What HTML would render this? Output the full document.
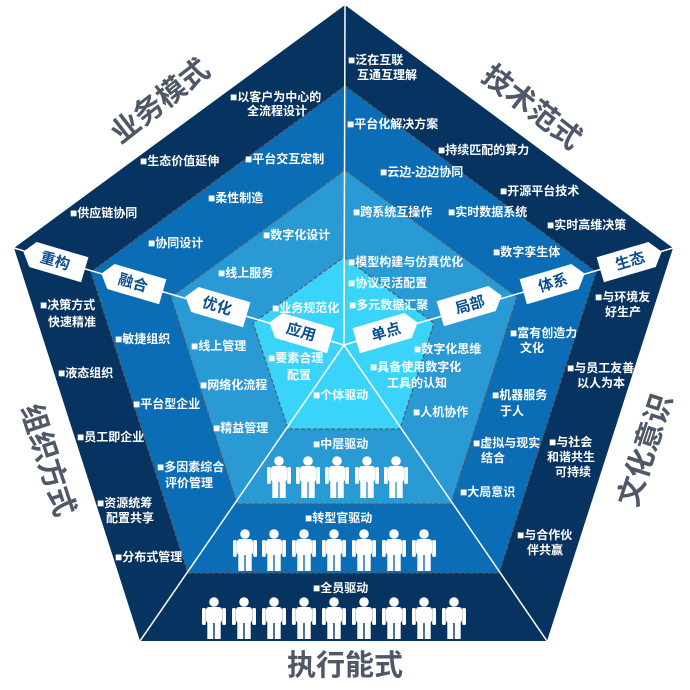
<!DOCTYPE html>
<html><head><meta charset="utf-8"><style>
html,body{margin:0;padding:0;background:#fff;}
svg{display:block;}
text{font-family:"Liberation Sans","Noto Sans CJK SC",sans-serif;}
.t{fill:#fff;font-size:12px;font-weight:bold;}
.big{fill:#4e5866;font-size:29px;font-weight:bold;}
.tag{fill:#0b4f8f;font-size:15px;font-weight:bold;}
</style></head><body>
<svg width="690" height="690" viewBox="0 0 690 690" xmlns="http://www.w3.org/2000/svg">
<defs>
<g id="p">
<circle cx="12" cy="5" r="4.8" fill="#fff"/>
<rect x="4" y="10" width="16" height="16" rx="3" fill="#fff"/>
<rect x="0" y="11" width="3.8" height="17" rx="1.5" fill="#fff"/>
<rect x="20.2" y="11" width="3.8" height="17" rx="1.5" fill="#fff"/>
<rect x="5.3" y="24" width="6" height="18" fill="#fff"/>
<rect x="12.7" y="24" width="6" height="18" fill="#fff"/>
</g>
<polygon id="tg" points="-33,0 -23,-13 31,-13 31,13 -23,13" fill="#fff"/>
</defs>
<polygon points="345,5 673,248 547,641 140,641 14,248" fill="#06335f"/>
<polygon points="345,86 596,272 499,573 188,573 91,272" fill="#0a6db5" stroke="#555c66" stroke-width="1.2" stroke-dasharray="4,2"/>
<polygon points="345,170 517,297 451,504 237,504 171,297" fill="#2a9ad5" stroke="#555c66" stroke-width="1.2" stroke-dasharray="4,2"/>
<polygon points="344,257 434,323 400,429 288,429 253,323" fill="#3ad4fb" stroke="#555c66" stroke-width="1.2" stroke-dasharray="4,2"/>
<g stroke="#fff" stroke-width="1.5">
<line x1="344" y1="345" x2="345" y2="5"/>
<line x1="344" y1="345" x2="14" y2="248"/>
<line x1="344" y1="345" x2="673" y2="248"/>
<line x1="344" y1="345" x2="140" y2="641"/>
<line x1="344" y1="345" x2="547" y2="641"/>
</g>
<g transform="translate(55,261) rotate(16.4)"><use href="#tg"/><text class="tag" x="0" y="5" text-anchor="middle">重构</text></g>
<g transform="translate(133,283) rotate(16.4)"><use href="#tg"/><text class="tag" x="0" y="5" text-anchor="middle">融合</text></g>
<g transform="translate(217,306) rotate(16.4)"><use href="#tg"/><text class="tag" x="0" y="5" text-anchor="middle">优化</text></g>
<g transform="translate(301,332) rotate(16.4)"><use href="#tg"/><text class="tag" x="0" y="5" text-anchor="middle">应用</text></g>
<g transform="translate(630,261) rotate(-16.4)"><use href="#tg" transform="scale(-1,1)"/><text class="tag" x="0" y="5" text-anchor="middle">生态</text></g>
<g transform="translate(553,283) rotate(-16.4)"><use href="#tg" transform="scale(-1,1)"/><text class="tag" x="0" y="5" text-anchor="middle">体系</text></g>
<g transform="translate(470,305) rotate(-16.4)"><use href="#tg" transform="scale(-1,1)"/><text class="tag" x="0" y="5" text-anchor="middle">局部</text></g>
<g transform="translate(386,332) rotate(-16.4)"><use href="#tg" transform="scale(-1,1)"/><text class="tag" x="0" y="5" text-anchor="middle">单点</text></g>
<text class="big" transform="translate(160,101) rotate(-38)" text-anchor="middle" dy="10">业务模式</text>
<text class="big" transform="translate(532,107) rotate(38)" text-anchor="middle" dy="10">技术范式</text>
<text class="big" transform="translate(645,450) rotate(-72)" text-anchor="middle" dy="10">文化意识</text>
<text class="big" transform="translate(48,460) rotate(72)" text-anchor="middle" dy="10">组织方式</text>
<text class="big" x="345" y="675" text-anchor="middle">执行能式</text>
<g class="t">
<text x="230" y="101">■以客户为中心的</text><text x="247" y="115">全流程设计</text>
<text x="140" y="165">■生态价值延伸</text>
<text x="70" y="217">■供应链协同</text>
<text x="245" y="163">■平台交互定制</text>
<text x="208" y="202">■柔性制造</text>
<text x="148" y="247">■协同设计</text>
<text x="263" y="239">■数字化设计</text>
<text x="218" y="277">■线上服务</text>
<text x="272" y="312">■业务规范化</text>
<text x="348" y="64">■泛在互联</text><text x="357" y="79">互通互理解</text>
<text x="347" y="128">■平台化解决方案</text>
<text x="438" y="154">■持续匹配的算力</text>
<text x="380" y="176">■云边-边边协同</text>
<text x="500" y="195">■开源平台技术</text>
<text x="353" y="216">■跨系统互操作</text>
<text x="448" y="216">■实时数据系统</text>
<text x="547" y="229">■实时高维决策</text>
<text x="493" y="256">■数字孪生体</text>
<text x="348" y="266">■模型构建与仿真优化</text>
<text x="348" y="287">■协议灵活配置</text>
<text x="349" y="309">■多元数据汇聚</text>
<text x="595" y="301">■与环境友</text><text x="605" y="316">好生产</text>
<text x="510" y="337">■富有创造力</text><text x="520" y="352">文化</text>
<text x="567" y="372">■与员工友善</text><text x="577" y="387">以人为本</text>
<text x="414" y="353">■数字化思维</text>
<text x="370" y="371">■具备使用数字化</text><text x="387" y="387">工具的认知</text>
<text x="492" y="399">■机器服务</text><text x="500" y="415">于人</text>
<text x="413" y="416">■人机协作</text>
<text x="549" y="446">■与社会</text><text x="547" y="461">和谐共生</text><text x="555" y="476">可持续</text>
<text x="473" y="447">■虚拟与现实</text><text x="481" y="462">结合</text>
<text x="460" y="496">■大局意识</text>
<text x="517" y="539">■与合作伙</text><text x="527" y="554">伴共赢</text>
<text x="40" y="309">■决策方式</text><text x="48" y="326">快速精准</text>
<text x="115" y="343">■敏捷组织</text>
<text x="191" y="350">■线上管理</text>
<text x="268" y="362">■要素合理</text><text x="287" y="379">配置</text>
<text x="58" y="377">■液态组织</text>
<text x="200" y="389">■网络化流程</text>
<text x="313" y="399">■个体驱动</text>
<text x="133" y="408">■平台型企业</text>
<text x="213" y="432">■精益管理</text>
<text x="77" y="441">■员工即企业</text>
<text x="313" y="448">■中层驱动</text>
<text x="157" y="471">■多因素综合</text><text x="165" y="487">评价管理</text>
<text x="97" y="507">■资源统筹</text><text x="106" y="522">配置共享</text>
<text x="305" y="522">■转型官驱动</text>
<text x="115" y="561">■分布式管理</text>
<text x="313" y="592">■全员驱动</text>
</g>
<g>
<use href="#p" x="267" y="456"/><use href="#p" x="296" y="456"/><use href="#p" x="325" y="456"/><use href="#p" x="355" y="456"/><use href="#p" x="384" y="456"/>
<use href="#p" x="233" y="529"/><use href="#p" x="262" y="529"/><use href="#p" x="292" y="529"/><use href="#p" x="322" y="529"/><use href="#p" x="352" y="529"/><use href="#p" x="382" y="529"/><use href="#p" x="412" y="529"/>
<use href="#p" x="202" y="597"/><use href="#p" x="232" y="597"/><use href="#p" x="262" y="597"/><use href="#p" x="292" y="597"/><use href="#p" x="322" y="597"/><use href="#p" x="352" y="597"/><use href="#p" x="382" y="597"/><use href="#p" x="412" y="597"/><use href="#p" x="442" y="597"/>
</g>
</svg>
</body></html>
